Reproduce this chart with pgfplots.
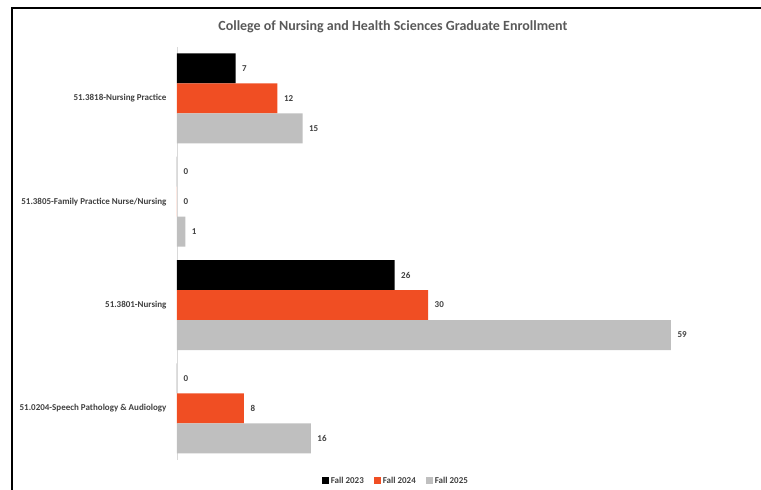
\documentclass[border=0pt]{standalone}
\usepackage{pgfplots}
\pgfplotsset{compat=1.18}
\usepackage{fontspec}
\setmainfont{Carlito}

\definecolor{f23}{HTML}{000000}
\definecolor{f24}{HTML}{F04E23}
\definecolor{f25}{HTML}{BFBFBF}
\definecolor{txt}{HTML}{404040}
\definecolor{ttl}{HTML}{595959}

\begin{document}
\begin{tikzpicture}
% picture area in pixel-like units, origin at the axis' lower left corner
\useasboundingbox (-177pt,-30pt) rectangle (584pt,460pt);
\begin{axis}[
    xbar,
    scale only axis,
    width=494pt,
    height=413.3pt,
    xmin=0, xmax=59,
    ymin=-0.5, ymax=3.5,
    bar width=30pt,
    axis x line=none,
    axis y line*=left,
    y axis line style={draw=black!15, -},
    ytick={0,1,2,3},
    yticklabels={51.0204-Speech Pathology \& Audiology, 51.3801-Nursing,
                 51.3805-Family Practice Nurse/Nursing, 51.3818-Nursing Practice},
    major tick length=0pt,
    yticklabel style={font=\bfseries\fontsize{9}{11}\selectfont, text=txt, xshift=-7pt},
    /pgf/number format/assume math mode=true,
    nodes near coords,
    nodes near coords style={font=\bfseries\fontsize{9}{11}\selectfont, text=txt, xshift=3pt},
    clip=false,
    title={College of Nursing and Health Sciences Graduate Enrollment},
    title style={font=\bfseries\fontsize{14}{16}\selectfont, text=ttl,
                 at={(0.437,1.0325)}, anchor=center},
    legend columns=3,
    legend style={draw=none, fill=none, at={(0.443,-0.05)}, anchor=center,
                  font=\bfseries\fontsize{9}{11}\selectfont, text=txt,
                  /tikz/every even column/.append style={column sep=8pt}},
    legend image code/.code={\fill[#1] (0pt,-3.5pt) rectangle (7pt,3.5pt);},
]
\addplot[fill=f23, draw=none, bar shift=30pt] coordinates {(0,0) (26,1) (0,2) (7,3)};
\addplot[fill=f24, draw=none, bar shift=0pt] coordinates {(8,0) (30,1) (0,2) (12,3)};
\addplot[fill=f25, draw=none, bar shift=-30pt] coordinates {(16,0) (59,1) (1,2) (15,3)};
\legend{Fall 2023, Fall 2024, Fall 2025}
\end{axis}
\draw[line width=1.2pt] (-165pt,-30pt) -- (-165pt,452pt) -- (584pt,452pt);
\end{tikzpicture}
\end{document}
